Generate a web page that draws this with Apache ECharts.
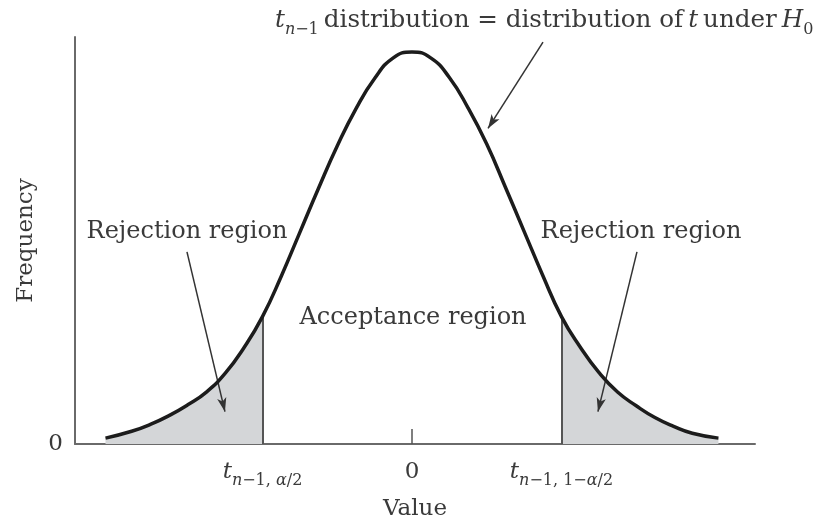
<!DOCTYPE html>
<html>
<head>
<meta charset="utf-8">
<script src="https://cdn.jsdelivr.net/npm/echarts@6/dist/echarts.min.js"></script>
<style>html,body{margin:0;padding:0;background:#fff}#c{width:820px;height:517px}</style>
</head>
<body>
<div id="c"></div>
<script>
// Curve (value units: cutoffs at ±2, peak height 0.4)
const curveX = [-4.1, -3.75, -3.5, -3.25, -3.0, -2.75, -2.5, -2.25, -2.0, -1.75, -1.5, -1.25, -1.0, -0.75, -0.5, -0.25, 0,
                0.25, 0.5, 0.75, 1.0, 1.25, 1.5, 1.75, 2.0, 2.25, 2.5, 2.75, 3.0, 3.25, 3.5, 3.75, 4.1];
const curveY = [0.006, 0.013, 0.020, 0.029, 0.040, 0.053, 0.072, 0.098, 0.130, 0.171, 0.216, 0.261, 0.304, 0.342, 0.373, 0.394, 0.400,
                0.394, 0.374, 0.343, 0.306, 0.262, 0.217, 0.172, 0.130, 0.099, 0.073, 0.053, 0.039, 0.027, 0.018, 0.011, 0.006];
const cutoffs = [-2, 2];
const xTickValues = [-2, 0, 2];
const xTickLabels = ['{it|t}{subi|n}{sub|\u22121, }{subi|\u03b1}{sub|/2}', '{n|0}', '{it|t}{subi|n}{sub|\u22121, 1\u2212}{subi|\u03b1}{sub|/2}'];
const yTickValues = [0];
const yTickLabels = ['0'];
const regionLabels = ['Rejection region', 'Acceptance region', 'Rejection region'];
// annotation arrows [from, to] in data coordinates
const arrows = [
  [[1.753, 0.410], [1.017, 0.322]],
  [[-3.010, 0.196], [-2.502, 0.033]],
  [[3.010, 0.196], [2.488, 0.033]]
];

const FONT = '"DejaVu Serif", "Liberation Serif", serif';
const TXT = '#3a3a3a';
const pts = curveX.map((x, i) => [x, curveY[i]]);
const leftTail = pts.filter(p => p[0] <= cutoffs[0]);
const rightTail = pts.filter(p => p[0] >= cutoffs[1]);
const cutH = cutoffs.map(c => curveY[curveX.indexOf(c)]);

function richSet(big, small, off) {
  return {
    n: {fontFamily: FONT, fontWeight: 'normal', fontSize: big, color: TXT, lineHeight: big + 4, verticalAlign: 'top'},
    it: {fontFamily: FONT, fontWeight: 'normal', fontStyle: 'italic', fontSize: big, color: TXT, lineHeight: big + 4, verticalAlign: 'top'},
    sub: {fontFamily: FONT, fontWeight: 'normal', fontSize: small, color: TXT, lineHeight: small, padding: [off, 0, 0, 0], verticalAlign: 'top'},
    subi: {fontFamily: FONT, fontWeight: 'normal', fontStyle: 'italic', fontSize: small, color: TXT, lineHeight: small, padding: [off, 0, 0, 0], verticalAlign: 'top'}
  };
}

const chart = echarts.init(document.getElementById('c'));
chart.setOption({
  animation: false,
  backgroundColor: '#fff',
  title: {
    left: 270, top: 3,
    text: '{it|t}{subi|n}{sub|\u22121} {n|distribution = distribution of} {it|t} {n|under} {it|H}{sub|0}',
    textStyle: {fontWeight: 'normal', rich: richSet(24.6, 16, 14)}
  },
  grid: {left: 75, right: 65, top: 37, bottom: 73, outerBoundsMode: 'none', containLabel: false},
  xAxis: {
    type: 'value', min: -4.508, max: 4.589,
    name: 'Value', nameLocation: 'middle', nameGap: 54,
    nameTextStyle: {fontFamily: FONT, fontSize: 23, color: TXT},
    axisLine: {onZero: false, lineStyle: {color: '#6a6a6a', width: 2}},
    axisTick: {show: true, inside: true, length: 15, customValues: [0], lineStyle: {color: '#555', width: 1.5}},
    splitLine: {show: false},
    axisLabel: {
      customValues: xTickValues, margin: 17,
      formatter: v => xTickLabels[xTickValues.indexOf(v)],
      rich: richSet(23, 16, 12)
    }
  },
  yAxis: {
    type: 'value', min: 0, max: 0.4153,
    name: 'Frequency', nameLocation: 'middle', nameGap: 34, nameRotate: 90,
    nameTextStyle: {fontFamily: FONT, fontSize: 23, color: TXT},
    axisLine: {show: true, onZero: false, lineStyle: {color: '#6a6a6a', width: 2}},
    axisTick: {show: false},
    splitLine: {show: false},
    axisLabel: {
      customValues: yTickValues, margin: 12,
      formatter: v => yTickLabels[yTickValues.indexOf(v)],
      fontFamily: FONT, fontSize: 23, color: TXT
    }
  },
  series: [
    {
      type: 'line', data: leftTail, smooth: true, showSymbol: false, silent: true,
      lineStyle: {width: 0}, areaStyle: {color: '#d4d6d8', opacity: 1}, z: 1
    },
    {
      type: 'line', data: rightTail, smooth: true, showSymbol: false, silent: true,
      lineStyle: {width: 0}, areaStyle: {color: '#d4d6d8', opacity: 1}, z: 1
    },
    {
      type: 'line', data: pts, smooth: true, showSymbol: false, silent: true,
      lineStyle: {color: '#1c1c1c', width: 3.5}, z: 5,
      markLine: {
        silent: true, symbol: 'none', label: {show: false},
        lineStyle: {color: '#555', width: 2, type: 'solid'},
        data: cutoffs.map((c, i) => [{coord: [c, 0]}, {coord: [c, cutH[i]]}])
      }
    },
    {
      type: 'line', data: [], silent: true, z: 6,
      markLine: {
        silent: true, symbol: ['none', 'arrow'], symbolSize: [7, 14], label: {show: false},
        lineStyle: {color: '#333', width: 1.5, type: 'solid'},
        data: arrows.map(a => [{coord: a[0]}, {coord: a[1]}])
      }
    }
  ],
  graphic: [
    {type: 'text', x: 187, y: 232, style: {text: regionLabels[0], font: '24px ' + FONT, fill: TXT, textAlign: 'center', textVerticalAlign: 'middle'}},
    {type: 'text', x: 413, y: 318, style: {text: regionLabels[1], font: '24px ' + FONT, fill: TXT, textAlign: 'center', textVerticalAlign: 'middle'}},
    {type: 'text', x: 641, y: 232, style: {text: regionLabels[2], font: '24px ' + FONT, fill: TXT, textAlign: 'center', textVerticalAlign: 'middle'}}
  ]
});
</script>
</body>
</html>
